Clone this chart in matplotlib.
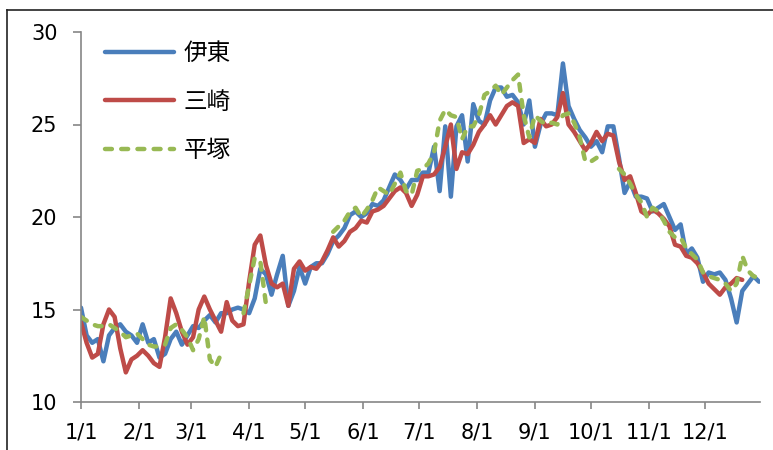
import numpy as np
import matplotlib
matplotlib.use("Agg")
import matplotlib.pyplot as plt
from matplotlib.lines import Line2D

plt.rcParams['font.family'] = ['DejaVu Sans', 'Noto Sans CJK JP']

nan = np.nan
# day of year (0 = Jan 1), sampled every 3 days
days = list(range(0, 364, 3))

ito = [15.1, 13.6, 13.2, 13.4, 12.2, 13.6, 14.0, 14.2, 13.8, 13.6,
       13.2, 14.2, 13.2, 13.4, 12.4, 12.6, 13.4, 13.8, 13.1, 13.6,
       14.1, 14.0, 14.4, 14.7, 14.3, 14.8, 14.8, 15.0, 15.1, 15.0,
       14.8, 15.6, 17.2, 16.9, 15.8, 16.9, 17.9, 15.2, 16.0, 17.3,
       16.4, 17.3, 17.5, 17.5, 18.0, 18.7, 19.0, 19.4, 20.1, 20.3,
       20.0, 20.2, 20.7, 20.6, 20.9, 21.6, 22.3, 22.0, 21.5, 22.0,
       22.0, 22.4, 22.4, 23.8, 21.4, 24.9, 21.1, 24.9, 25.5, 23.0,
       26.1, 25.2, 25.0, 26.3, 27.0, 27.0, 26.5, 26.6, 26.2, 25.0,
       26.3, 23.8, 25.0, 25.6, 25.6, 25.5, 28.3, 26.0, 25.3, 24.7,
       24.3, 23.8, 24.1, 23.5, 24.9, 24.9, 23.2, 21.3, 21.9, 21.1,
       21.1, 21.0, 20.3, 20.5, 20.7, 20.0, 19.3, 19.6, 18.0, 18.3,
       17.8, 16.5, 17.0, 16.9, 17.0, 16.6, 15.6, 14.3, 16.0, 16.4,
       16.8, 16.5]

misaki = [14.3, 13.2, 12.4, 12.6, 14.2, 15.0, 14.6, 12.9, 11.6, 12.3,
          12.5, 12.8, 12.5, 12.1, 11.9, 13.5, 15.6, 14.8, 13.8, 13.1,
          13.5, 15.0, 15.7, 15.0, 14.4, 13.8, 15.4, 14.4, 14.1, 14.2,
          16.5, 18.5, 19.0, 17.4, 16.4, 16.2, 16.4, 15.2, 17.2, 17.6,
          17.1, 17.3, 17.2, 17.6, 18.2, 18.9, 18.4, 18.7, 19.2, 19.4,
          19.8, 19.7, 20.3, 20.4, 20.6, 21.0, 21.4, 21.6, 21.3, 20.6,
          21.2, 22.2, 22.2, 22.3, 22.7, 23.8, 25.0, 22.6, 23.5, 23.4,
          23.9, 24.6, 25.0, 25.5, 25.0, 25.5, 26.0, 26.2, 26.0, 24.0,
          24.2, 24.0, 25.3, 24.9, 25.0, 25.4, 26.7, 25.0, 24.6, 24.1,
          23.6, 24.0, 24.6, 24.1, 24.5, 24.4, 23.0, 22.0, 22.2, 21.3,
          20.3, 20.1, 20.4, 20.2, 19.9, 19.5, 18.5, 18.4, 17.9, 17.8,
          17.5, 17.0, 16.4, 16.1, 15.8, 16.2, 16.4, 16.7, 16.6, nan,
          nan, nan]

hiratsuka = [14.6, 14.4, 14.2, 14.1, 14.1, 14.2, 14.0, 13.8, 13.5, 13.6,
             13.7, 13.4, 13.1, 13.0, 13.0, 13.1, 14.0, 14.2, 13.9, 13.5,
             12.8, 13.4, 14.6, 12.3, 11.9, 12.6, nan, nan, nan, 14.8,
             16.3, 17.8, 17.6, 15.3, nan, nan, nan, nan, nan, nan,
             nan, nan, nan, nan, nan, 19.2, 19.5, 19.8, 20.3, 20.5,
             20.0, 20.4, 20.9, 21.6, 21.4, 21.2, 21.8, 22.4, 21.4, 21.2,
             22.5, 22.6, 22.9, 23.5, 25.2, 25.8, 25.5, 25.4, 24.2, 24.9,
             24.9, 25.5, 26.6, 26.8, 27.1, 26.6, 27.0, 27.4, 27.7, 25.5,
             24.3, 25.5, 25.2, 25.0, 25.1, 25.0, 25.5, 25.6, 25.1, 24.3,
             23.0, 23.0, 23.2, nan, nan, nan, 22.6, 22.3, 21.8, 21.2,
             20.8, 20.0, 20.5, 20.3, 19.8, 19.2, 18.9, 18.9, 18.3, 18.0,
             17.7, 17.0, 16.8, 16.7, 16.6, 16.4, 16.0, 16.4, 17.9, 17.1,
             16.8, 16.7]

names = ['伊東', '三崎', '平塚']
month_ticks = [0, 31, 59, 90, 120, 151, 181, 212, 243, 273, 304, 334]
month_labels = ['1/1', '2/1', '3/1', '4/1', '5/1', '6/1', '7/1', '8/1',
                '9/1', '10/1', '11/1', '12/1']
y_ticks = [10, 15, 20, 25, 30]

W, H = 773, 450
fig = plt.figure(figsize=(W / 100, H / 100), dpi=100)
ax = fig.add_axes([81 / W, 1 - 402 / H, (760 - 81) / W, (402 - 32) / H])

LW = 3.2
ax.plot(days, ito, color='#4A7EBB', lw=LW, label=names[0],
        solid_capstyle='round', solid_joinstyle='round')
ax.plot(days, misaki, color='#BE4B48', lw=LW, label=names[1],
        solid_capstyle='round', solid_joinstyle='round')
ax.plot(days, hiratsuka, color='#98B954', lw=LW, label=names[2],
        dashes=(1.55, 2.1), dash_capstyle='round', dash_joinstyle='round')

ax.set_xlim(0, 363.5)
ax.set_ylim(10, 30)
ax.set_xticks(month_ticks)
ax.set_xticklabels(month_labels)
ax.set_yticks(y_ticks)

for s in ['top', 'right']:
    ax.spines[s].set_visible(False)
for s in ['left', 'bottom']:
    ax.spines[s].set_color('#868686')
    ax.spines[s].set_linewidth(1.2)

ax.tick_params(axis='both', colors='#868686', labelcolor='black', labelsize=15,
               width=1.2, direction='out')
ax.tick_params(axis='y', length=6, pad=11)
ax.tick_params(axis='x', length=5, pad=10)

leg = ax.legend(loc='upper left', bbox_to_anchor=(84 / W, 1 - 21 / H),
                bbox_transform=fig.transFigure, frameon=False,
                prop={'family': ['Noto Sans CJK JP', 'DejaVu Sans'], 'size': 17},
                handlelength=2.9, handletextpad=0.42, labelspacing=1.08)

# outer border (cropped chart frame)
fig.add_artist(Line2D([7 / W, 7 / W], [0, 1 - 10 / H], transform=fig.transFigure,
                      color='#222222', lw=1.2))
fig.add_artist(Line2D([7 / W, 1], [1 - 10 / H, 1 - 10 / H], transform=fig.transFigure,
                      color='#222222', lw=1.2))

fig.savefig('out.png', dpi=100)
